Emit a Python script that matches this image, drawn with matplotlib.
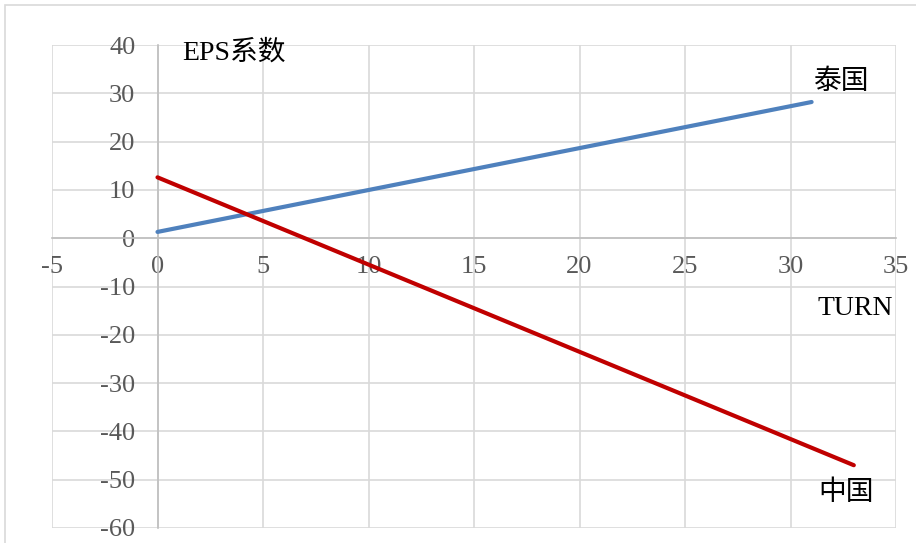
import matplotlib
matplotlib.use("Agg")
import matplotlib.pyplot as plt
from matplotlib.patches import Rectangle

# Fitted EPS coefficient lines over TURN
thai_x = [0, 31]
thai_y = [1.3, 28.2]
china_x = [0, 33]
china_y = [12.6, -47.0]

x_ticks = [-5, 0, 5, 10, 15, 20, 25, 30, 35]
y_ticks = [-60, -50, -40, -30, -20, -10, 0, 10, 20, 30, 40]

plt.rcParams['font.family'] = ['Liberation Serif', 'Noto Sans CJK SC', 'DejaVu Sans']

W, H = 916, 543
fig = plt.figure(figsize=(W / 100, H / 100), dpi=100)
fig.patch.set_facecolor('white')

# Thin outer frame of the chart area
fig.patches.append(Rectangle((5 / W, -0.05), 1.05, 1 - 5 / H + 0.05,
                             transform=fig.transFigure, fill=False,
                             edgecolor='#d9d9d9', linewidth=1.2, clip_on=False))

ax = fig.add_axes([52 / W, 1 - 528 / H, (896 - 52) / W, (528 - 45) / H])
ax.set_xlim(-5, 35)
ax.set_ylim(-60, 40)

ax.set_xticks(x_ticks)
ax.set_yticks(y_ticks)
ax.grid(True, color='#d9d9d9', linewidth=1.2)
ax.set_axisbelow(True)

for s in ['top', 'right']:
    ax.spines[s].set_visible(False)
ax.spines['left'].set_position(('data', 0))
ax.spines['bottom'].set_position(('data', 0))
ax.spines['left'].set_color('#bfbfbf')
ax.spines['bottom'].set_color('#bfbfbf')
ax.spines['left'].set_linewidth(1.2)
ax.spines['bottom'].set_linewidth(1.2)

ax.tick_params(axis='both', length=0, labelsize=19, labelcolor='#595959')
ax.tick_params(axis='y', pad=16)
ax.tick_params(axis='x', pad=13)
ax.set_xticklabels([str(v) for v in x_ticks])
ax.set_yticklabels([str(v) for v in y_ticks])

ax.plot(thai_x, thai_y, color='#4f81bd', linewidth=3, solid_capstyle='round', zorder=3)
ax.plot(china_x, china_y, color='#c00000', linewidth=3, solid_capstyle='round', zorder=3)

ax.text(1.15, 38.3, 'EPS系数', fontsize=20, color='black', va='center', ha='left')
ax.text(31.1, 32.2, '泰国', fontsize=20, color='black', va='center', ha='left')
ax.text(31.3, -14.5, 'TURN', fontsize=20, color='black', va='center', ha='left')
ax.text(31.3, -52.8, '中国', fontsize=20, color='black', va='center', ha='left')

fig.savefig('out.png', dpi=100)
